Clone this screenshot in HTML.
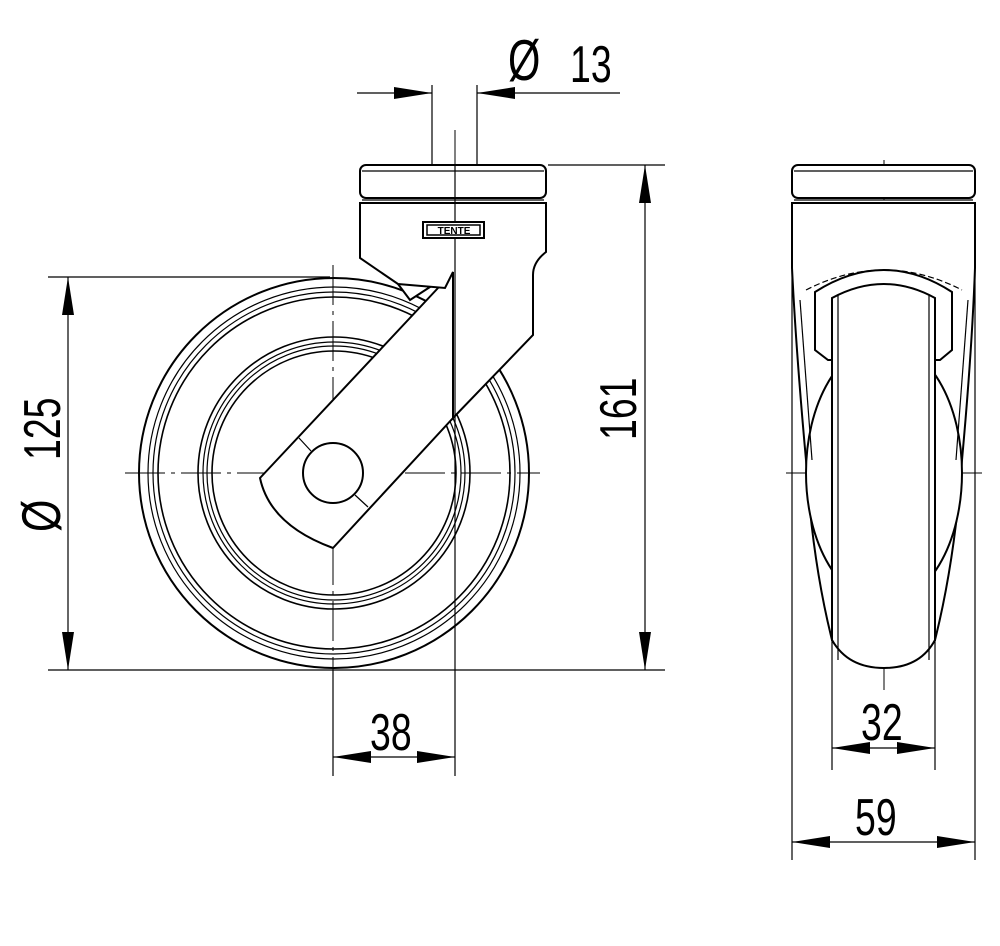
<!DOCTYPE html>
<html><head><meta charset="utf-8"><style>html,body{margin:0;padding:0;background:#fff}svg{display:block}</style></head>
<body>
<svg width="1000" height="946" viewBox="0 0 1000 946" xmlns="http://www.w3.org/2000/svg" font-family="Liberation Sans, sans-serif">
<defs>
<marker id="a" viewBox="0 0 38 12" refX="38" refY="6" markerWidth="38" markerHeight="12" markerUnits="userSpaceOnUse" orient="auto-start-reverse"><path d="M0,0 L38,6 L0,12 z" fill="#000"/></marker>
</defs>
<g fill="none" stroke="#000" stroke-width="1.2">
<line x1="48" y1="277" x2="330" y2="277"/>
<line x1="48" y1="670" x2="665" y2="670"/>
<line x1="548" y1="165" x2="665" y2="165"/>
<line x1="432" y1="85" x2="432" y2="165"/>
<line x1="477" y1="85" x2="477" y2="165"/>
<line x1="333" y1="670" x2="333" y2="776"/>
<line x1="455" y1="418" x2="455" y2="776"/>
<line x1="832" y1="640" x2="832" y2="770"/>
<line x1="935" y1="640" x2="935" y2="770"/>
<line x1="792" y1="270" x2="792" y2="860"/>
<line x1="975" y1="270" x2="975" y2="860"/>
<line x1="68" y1="277" x2="68" y2="670" marker-start="url(#a)" marker-end="url(#a)"/>
<line x1="645" y1="165" x2="645" y2="670" marker-start="url(#a)" marker-end="url(#a)"/>
<line x1="357" y1="93" x2="432" y2="93" marker-end="url(#a)"/>
<line x1="620" y1="93" x2="477" y2="93" marker-end="url(#a)"/>
<line x1="333" y1="757" x2="455" y2="757" marker-start="url(#a)" marker-end="url(#a)"/>
<line x1="832" y1="748" x2="935" y2="748" marker-start="url(#a)" marker-end="url(#a)"/>
<line x1="792" y1="842" x2="975" y2="842" marker-start="url(#a)" marker-end="url(#a)"/>
<g stroke-width="1" stroke-dasharray="40,6,4,6">
<line x1="125" y1="473" x2="540" y2="473"/>
<line x1="333" y1="265" x2="333" y2="685"/>
<line x1="455" y1="130" x2="455" y2="272"/>
<line x1="786" y1="473" x2="982" y2="473"/>
<line x1="884" y1="160" x2="884" y2="690"/>
</g>
<circle cx="334" cy="473" r="195" stroke-width="2"/>
<circle cx="334" cy="473" r="186"/>
<circle cx="334" cy="473" r="181"/>
<circle cx="334" cy="473" r="176" stroke-width="1.6"/>
<circle cx="334" cy="473" r="136" stroke-width="1.6"/>
<circle cx="334" cy="473" r="131"/>
<circle cx="334" cy="473" r="127"/>
<circle cx="334" cy="473" r="122" stroke-width="1.6"/>
</g>
<g stroke="#000" stroke-width="2" fill="#fff">
<path d="M453,272 L398,284 L410,300 Z"/>
<path d="M453,272 L260,478 Q270,525 333,548 L453,418 Z"/>
<path d="M360,203 L546,203 L546,252 Q533,262 533,275 L533,335 L453,418 L453,272 L445,288 L398,284 L360,258 Z"/>
<rect x="360" y="165" width="186" height="33" rx="6"/>
<circle cx="333" cy="473" r="30"/>
</g>
<g stroke="#000" stroke-width="1.2" fill="none">
<line x1="362" y1="200" x2="544" y2="200"/>
<line x1="362" y1="171" x2="544" y2="171"/>
<line x1="299" y1="438" x2="311" y2="451"/>
<line x1="355" y1="495" x2="368" y2="507"/>
<line x1="455" y1="165" x2="455" y2="418"/>
</g>
<rect x="423" y="222" width="61" height="16" fill="#fff" stroke="#000" stroke-width="2"/>
<rect x="427" y="225" width="53" height="10" fill="none" stroke="#000" stroke-width="1.5"/>
<text x="454" y="234" font-size="10" font-weight="bold" fill="#000" text-anchor="middle">TENTE</text>
<g stroke="#000" stroke-width="2" fill="#fff">
<path d="M792,203 L975,203 L975,268 Q972,350 962,460 Q955,560 935,640 L832,640 Q812,560 806,460 Q796,350 792,268 Z"/>
<rect x="792" y="165" width="183" height="33" rx="6"/>
<ellipse cx="884" cy="473" rx="78" ry="130"/>
<path d="M815,350 L815,292 Q884,248 952,292 L952,350 L940,360 L828,360 Z"/>
<path d="M832,298 Q884,270 935,298 L935,640 Q920,668 884,668 Q848,668 832,640 Z"/>
</g>
<g stroke="#000" stroke-width="1.2" fill="none">
<line x1="838" y1="295" x2="838" y2="660"/>
<line x1="929" y1="295" x2="929" y2="660"/>
<line x1="794" y1="200" x2="973" y2="200"/>
<line x1="794" y1="171" x2="973" y2="171"/>
<path d="M806,290 Q884,250 962,290" stroke-dasharray="6,3"/>
<path d="M800,300 L812,460"/><path d="M968,300 L956,460"/>
</g>
<g fill="#000" font-size="52">
<text transform="translate(508,80) scale(0.8,1.1)">Ø</text>
<text transform="translate(570,82) scale(0.72,1)">13</text>
<text transform="translate(370,750) scale(0.72,1)">38</text>
<text transform="translate(861,740) scale(0.72,1)">32</text>
<text transform="translate(855,835) scale(0.72,1)">59</text>
<text transform="translate(60,532) rotate(-90) scale(0.8,1.05)">Ø</text>
<text transform="translate(60,460) rotate(-90) scale(0.72,1)">125</text>
<text transform="translate(636,440) rotate(-90) scale(0.72,1)">161</text>
</g>
</svg>
</body></html>
